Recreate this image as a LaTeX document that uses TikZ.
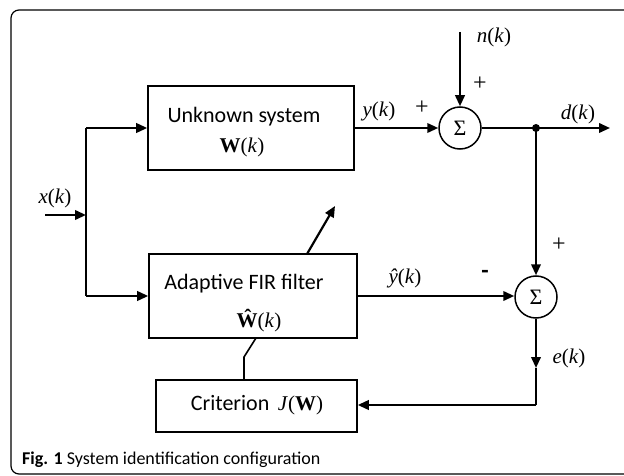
\documentclass[tikz,border=0pt]{standalone}
\usepackage{fontspec}
\setmainfont{Liberation Serif}
\setsansfont{Carlito}
\usetikzlibrary{arrows.meta}
\begin{document}
\begin{tikzpicture}[x=1pt,y=-1pt,
 blk/.style={draw, line width=1.6pt, inner sep=0pt},
 sig/.style={line width=2.2pt, -{Triangle[length=11pt,width=9.5pt]}},
 ln/.style={line width=2.2pt},
 sumc/.style={draw, circle, line width=1.5pt, minimum size=42pt, inner sep=0pt, font=\fontsize{22}{22}\selectfont},
 lbl/.style={font=\fontsize{21}{21}\selectfont, inner sep=0pt, anchor=base},
 btxt/.style={font=\sffamily\fontsize{22}{22}\selectfont, inner sep=0pt, anchor=base},
 sgn/.style={font=\fontsize{24}{24}\selectfont, inner sep=0pt},
]
\useasboundingbox (0,0) rectangle (624,476);
% frame
\draw[line width=1.2pt, rounded corners=8pt] (640,10) -- (11,10) -- (11,474) -- (640,474);
% blocks
\node[blk, minimum width=206pt, minimum height=84pt] (us) at (251,128) {};
\node[btxt] (ust) at (244,123) {Unknown system};
\node[lbl] (usw) at (242,153) {\textbf{W}(\textit{k})};
\node[blk, minimum width=208pt, minimum height=84pt] (af) at (253,296) {};
\node[btxt] (aft) at (244,289) {Adaptive FIR filter};
\node[lbl] (afw) at (259,327) {\textbf{Ŵ}(\textit{k})};
\node[blk, minimum width=201pt, minimum height=52pt] (cr) at (256.5,406) {};
\node[btxt] (crt) at (257,410) {Criterion\, {\rmfamily\fontsize{21}{21}\selectfont\textit{J}(\textbf{W})}};
% summing junctions
\node[sumc] (s1) at (460,128) {Σ};
\node[sumc] (s2) at (536,297) {Σ};
% coordinates
\coordinate (xin) at (45,215);
\coordinate (br) at (86,215);
\coordinate (bt) at (86,128);
\coordinate (bb) at (86,296);
\coordinate (ntop) at (460,32);
\coordinate (jn) at (536,128);
\coordinate (dout) at (610,128);
\coordinate (ek) at (536,368);
\coordinate (ec) at (536,405);
\coordinate (ck) at (244,357);
\coordinate (cb) at (256,338);
\coordinate (aa1) at (307,254);
\coordinate (aa2) at (335,206);
% connectors
\draw[sig] (xin) -- (br);
\draw[ln] (bt) -- (bb);
\draw[sig] (bt) -- (bt -| us.west);
\draw[sig] (bb) -- (bb -| af.west);
\draw[sig] (us.east) -- (s1.west);
\draw[sig] (ntop) -- (s1.north);
\draw[ln] (s1.east) -- (jn);
\draw[sig] (jn) -- (dout);
\fill (jn) circle[radius=4pt];
\draw[sig] (jn) -- (s2.north);
\draw[sig] (af.east) -- (af.east -| s2.west);
\draw[sig] (s2.south) -- (ek);
\draw[ln] (ek) -- (ec);
\draw[sig] (ec) -- (ec -| cr.east);
\draw[line width=1.6pt] (ck |- cr.north) -- (ck) -- (cb);
\draw[sig] (aa1) -- (aa2);
% labels
\node[lbl] (lx) at (55,204) {\textit{x}(\textit{k})};
\node[lbl] (ly) at (379,117) {\textit{y}(\textit{k})};
\node[lbl] (ln) at (494,43) {\textit{n}(\textit{k})};
\node[lbl] (ld) at (578,120) {\textit{d}(\textit{k})};
\node[lbl] (lyh) at (405,283) {\textit{ŷ}(\textit{k})};
\node[lbl] (le) at (569,363) {\textit{e}(\textit{k})};
\node[sgn] (p1) at (480,84) {+};
\node[sgn] (p2) at (422,108) {+};
\node[sgn] (p3) at (559,245) {+};
\node[inner sep=0pt, font=\sffamily\bfseries\fontsize{24}{24}\selectfont] (m1) at (485,274) {-};
% caption
\node[font=\sffamily\fontsize{18}{18}\selectfont, inner sep=0pt, anchor=base west] (cap) at (22,464) {\textbf{Fig. 1} System identification configuration};
\end{tikzpicture}
\end{document}
